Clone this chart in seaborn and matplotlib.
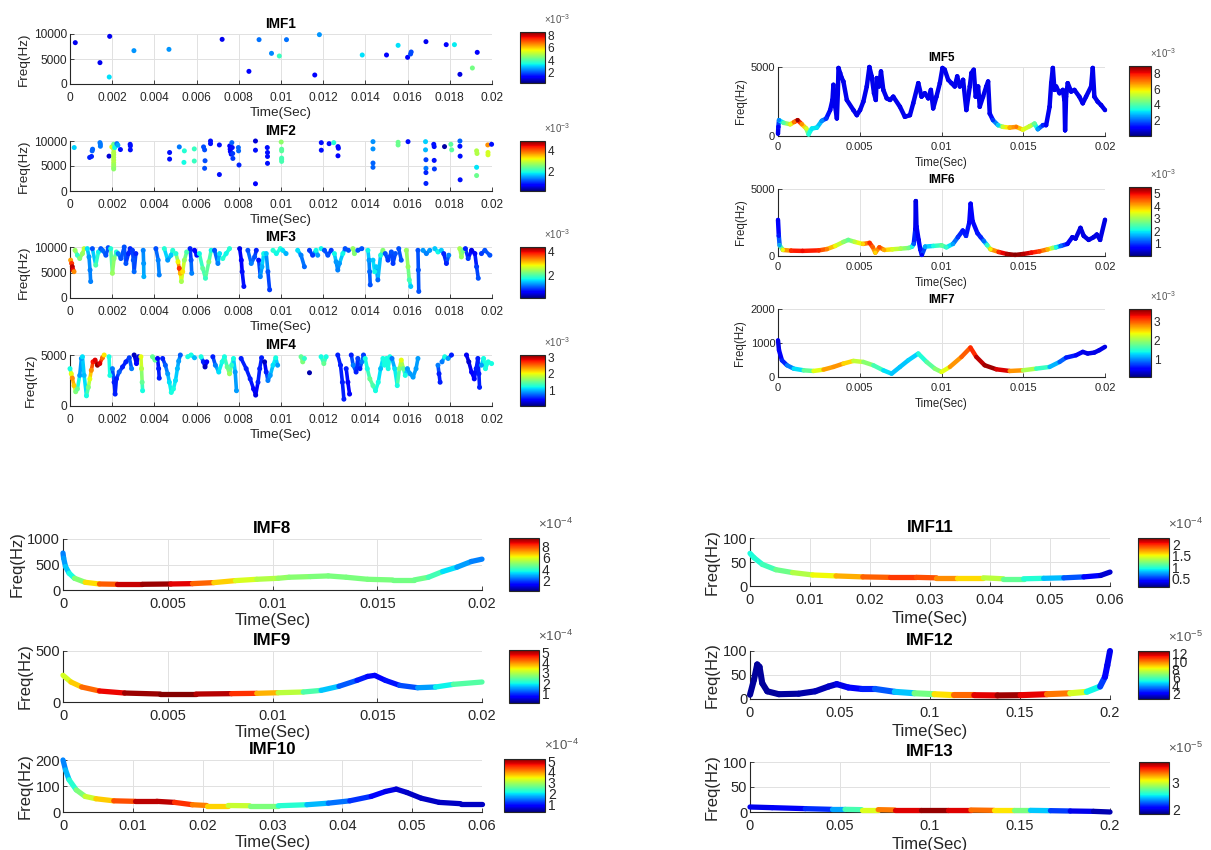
import numpy as np
import matplotlib
matplotlib.use("Agg")
import matplotlib.pyplot as plt
import seaborn as sns
from matplotlib.collections import LineCollection
from matplotlib.colors import Normalize
from matplotlib.cm import ScalarMappable
from matplotlib.ticker import FixedLocator, FuncFormatter

sns.set_theme(style="white")
plt.rcParams["font.family"] = ["Liberation Sans", "DejaVu Sans"]
plt.rcParams["mathtext.fontset"] = "custom"
plt.rcParams["mathtext.rm"] = "Liberation Sans"

JET = matplotlib.colormaps["jet"]

# ---------------- Hilbert spectrum data (time s, instantaneous freq Hz, amplitude) ----------------
# IMF1: isolated points
imf1_time = [0.00025, 0.00142, 0.00188, 0.00186, 0.00303, 0.00469, 0.00721, 0.00848, 0.00896, 0.00955,
             0.00992, 0.01026, 0.0116, 0.01182, 0.01385, 0.015, 0.01555, 0.016, 0.01614, 0.01617,
             0.01687, 0.01783, 0.01822, 0.01848, 0.01907, 0.0193]
imf1_freq = [8270, 4270, 9530, 1400, 6670, 6930, 8930, 2530, 8870, 6130,
             5600, 8870, 1800, 9870, 5800, 5800, 7730, 5330, 6000, 6400,
             8470, 7870, 7870, 1930, 3200, 6330]
imf1_amp = [1.2, 1.2, 1.2, 3.2, 2.6, 2.6, 1.2, 1.3, 2.3, 2.5,
            3.8, 2.3, 1.3, 2.6, 3.2, 1.4, 3.2, 1.3, 2.0, 2.0,
            1.2, 1.4, 3.3, 1.1, 4.4, 1.3]

# IMF2: isolated points
imf2_time = [0.0002, 0.00093, 0.00102, 0.00105, 0.00107, 0.00142, 0.00144, 0.00144, 0.00185, 0.00198,
             0.00207, 0.00207, 0.00207, 0.00207, 0.00207, 0.00207, 0.00207, 0.00207, 0.00207, 0.00207,
             0.00212, 0.00222, 0.00227, 0.00239, 0.00285, 0.00286, 0.00286, 0.00472, 0.00472, 0.00518,
             0.00542, 0.0054, 0.00589, 0.00589, 0.00633, 0.00638, 0.0064, 0.00638, 0.00666, 0.00666,
             0.00708, 0.00708, 0.00757, 0.00759, 0.0076, 0.00764, 0.00767, 0.00769, 0.00771, 0.00772,
             0.00798, 0.00799, 0.00801, 0.00879, 0.00879, 0.00879, 0.00935, 0.00936, 0.00936, 0.00936,
             0.01001, 0.01003, 0.01003, 0.01003, 0.01003, 0.01003, 0.01191, 0.01191, 0.01228, 0.0125,
             0.0127, 0.01272, 0.0127, 0.01436, 0.01436, 0.01436, 0.01436, 0.01555, 0.01555, 0.01602,
             0.01685, 0.01685, 0.01687, 0.01687, 0.01687, 0.01687, 0.01724, 0.01726, 0.01726, 0.01727,
             0.01775, 0.01805, 0.01809, 0.01848, 0.01848, 0.01849, 0.01849, 0.01927, 0.01929, 0.01927,
             0.01927, 0.0198, 0.01981, 0.01981, 0.01998]
imf2_freq = [8690, 6710, 6910, 8030, 8360, 9670, 9340, 8950, 6970, 8820,
             9340, 8360, 7700, 7240, 6710, 6190, 5660, 5200, 4740, 4410,
             8690, 9470, 9150, 8290, 9340, 9010, 8230, 7700, 6380, 8820,
             8030, 5720, 8420, 5990, 8820, 8230, 6050, 4540, 10000, 9470,
             9210, 3290, 9010, 8360, 7900, 7370, 9670, 8690, 7500, 6510,
             8690, 8030, 5200, 10000, 8160, 1450, 8690, 7700, 6910, 5530,
             9800, 8360, 8030, 6580, 6320, 5920, 9670, 8160, 9470, 9670,
             8880, 8550, 7040, 9870, 8420, 5590, 4740, 9740, 9210, 9870,
             9870, 8230, 6250, 4540, 3680, 1510, 9340, 8880, 6120, 4410,
             8880, 9340, 8230, 10000, 8950, 6970, 2240, 8030, 7500, 4740,
             3090, 9210, 7700, 7240, 9340]
imf2_amp = [1.7, 0.9, 0.9, 1.2, 1.2, 1.3, 1.3, 1.3, 0.5, 3.1,
            2.4, 2.8, 2.8, 2.8, 2.8, 2.8, 2.8, 2.7, 2.7, 2.6,
            1.9, 1.3, 1.5, 0.8, 0.8, 0.8, 0.8, 0.8, 0.8, 1.3,
            2.0, 1.9, 2.1, 2.1, 1.1, 1.1, 1.1, 1.1, 0.8, 0.8,
            0.8, 0.8, 0.7, 0.7, 0.7, 0.8, 1.2, 0.8, 1.0, 1.0,
            1.2, 1.2, 0.9, 0.5, 0.8, 0.7, 0.8, 0.8, 0.8, 0.8,
            2.6, 2.3, 2.3, 2.2, 2.2, 2.2, 0.8, 0.8, 0.8, 2.0,
            0.8, 0.8, 0.7, 1.4, 1.4, 1.2, 1.2, 2.4, 2.4, 0.8,
            1.7, 1.6, 1.0, 1.3, 0.9, 0.9, 0.8, 0.8, 0.8, 1.0,
            0.3, 2.3, 2.3, 1.2, 0.8, 0.8, 0.8, 2.8, 2.8, 1.8,
            2.4, 3.7, 3.0, 3.0, 0.8]

# IMF3: short traces (one list per trace)
imf3_time = [
    [0.00003, 0.00008, 0.00011, 0.00014, 0.00019],
    [0.00024, 0.00035, 0.00046, 0.00059, 0.00067],
    [0.00082, 0.0009, 0.00095, 0.00098],
    [0.00106, 0.00122, 0.00135, 0.00146],
    [0.00154, 0.0017, 0.00181],
    [0.00193, 0.00201, 0.00209, 0.0022],
    [0.00228, 0.00241, 0.00257, 0.00265, 0.00277, 0.00285],
    [0.00296, 0.003, 0.00304, 0.00312],
    [0.00347, 0.00349, 0.0035],
    [0.00407, 0.00418, 0.00423],
    [0.00447, 0.00463, 0.00479, 0.00487],
    [0.00502, 0.00512, 0.00518, 0.00523, 0.00528, 0.00534, 0.00542, 0.00553],
    [0.00569, 0.00574, 0.00577],
    [0.0059, 0.00601],
    [0.00613, 0.00629, 0.00642, 0.00658, 0.00669],
    [0.00685, 0.00701, 0.00709],
    [0.00724, 0.0074, 0.00756],
    [0.00804, 0.00812, 0.00816, 0.00824],
    [0.00843, 0.00859, 0.00875, 0.00883],
    [0.00894, 0.00902, 0.0091, 0.00918],
    [0.0093, 0.00938, 0.00946],
    [0.00962, 0.00978, 0.00997],
    [0.01008, 0.01024],
    [0.01079, 0.01095, 0.01111],
    [0.01135, 0.0115, 0.01166, 0.01174],
    [0.0119, 0.01206, 0.01222, 0.01238],
    [0.01253, 0.01261, 0.01269, 0.01277, 0.01293, 0.01304, 0.0132],
    [0.01341, 0.01348],
    [0.01364, 0.01383],
    [0.01412, 0.01417, 0.0142, 0.01423],
    [0.01436, 0.01444, 0.01451, 0.01459, 0.01472, 0.01483],
    [0.01494, 0.01507, 0.01523, 0.01531, 0.01542],
    [0.01558, 0.0157],
    [0.01594, 0.01602, 0.01608, 0.01615],
    [0.01649, 0.01651, 0.01653],
    [0.01673, 0.01689, 0.01705],
    [0.01729, 0.01744, 0.0176],
    [0.01771, 0.01784, 0.01795],
    [0.01847, 0.01855, 0.01863],
    [0.01874, 0.01887, 0.01903, 0.01919, 0.01927, 0.01935],
    [0.0195, 0.01966, 0.0199],
]
imf3_freq = [
    [7420, 6770, 6130, 5480, 5160],
    [9350, 8390, 7740, 8710, 9680],
    [9680, 8060, 5480, 3230],
    [9680, 6450, 9030, 9680],
    [9350, 8390, 9870],
    [9680, 4840, 7740, 9030],
    [8710, 7740, 10000, 6770, 8710, 9680],
    [9350, 7420, 5160, 8710],
    [9350, 6770, 4190],
    [9680, 7420, 4520],
    [9680, 7420, 8390, 9350],
    [8710, 7100, 5810, 4840, 3230, 5160, 7420, 9030],
    [9680, 7420, 4840],
    [9350, 8390],
    [8710, 5810, 3870, 7100, 9350],
    [9350, 6770, 8710],
    [7740, 8710, 9680],
    [9680, 7420, 5160, 2260],
    [9350, 6770, 8060, 9350],
    [7420, 4190, 6130, 8710],
    [8710, 5160, 1610],
    [9350, 8710, 9680],
    [9350, 8710],
    [9350, 8390, 6130],
    [9350, 8390, 9350, 8390],
    [9680, 9350, 8390, 9350],
    [8710, 7100, 5480, 6770, 8710, 9680, 9350],
    [9680, 8710],
    [9350, 9680],
    [9350, 7420, 5160, 2580],
    [7420, 5160, 6130, 3550, 8390, 9350],
    [8710, 7420, 9030, 6770, 8710],
    [9680, 7420],
    [9350, 6130, 3550, 2260],
    [9350, 5480, 1290],
    [9350, 8710, 9350],
    [9680, 9030, 9350],
    [8710, 6770, 8390],
    [9680, 8060, 9350],
    [9680, 7740, 9350, 8710, 6130, 3870],
    [8710, 9350, 8390],
]
imf3_amp = [
    [3.3, 3.8, 4.2, 4.0, 3.4],
    [2.4, 1.9, 2.3, 2.4, 2.6],
    [1.6, 1.3, 1.2, 1.2],
    [1.0, 2.0, 1.7, 1.0],
    [1.1, 1.0, 1.0],
    [1.8, 2.4, 2.3, 1.8],
    [1.2, 1.0, 1.0, 1.0, 0.8, 0.8],
    [0.9, 1.0, 1.1, 0.8],
    [1.2, 1.3, 1.4],
    [1.0, 1.2, 1.2],
    [1.8, 1.3, 1.5, 1.8],
    [1.8, 2.9, 3.8, 3.2, 2.5, 3.0, 2.4, 2.0],
    [0.8, 1.0, 1.2],
    [0.6, 0.7],
    [1.7, 2.1, 1.9, 2.3, 1.7],
    [1.0, 1.2, 1.6],
    [1.8, 1.7, 1.8],
    [0.5, 0.6, 0.7, 0.7],
    [1.0, 1.2, 1.0, 0.8],
    [0.7, 1.2, 1.4, 1.7],
    [1.5, 1.0, 0.9],
    [1.8, 1.7, 1.8],
    [1.6, 1.4],
    [1.6, 1.2, 1.1],
    [0.9, 0.9, 1.7, 1.3],
    [1.7, 1.0, 1.0, 0.9],
    [1.7, 1.3, 1.2, 1.3, 1.7, 1.0, 1.0],
    [2.4, 2.3],
    [1.0, 1.0],
    [1.7, 1.3, 1.1, 1.0],
    [1.5, 1.7, 1.5, 1.1, 1.8, 2.3],
    [1.0, 0.9, 1.0, 0.9, 1.0],
    [1.0, 1.0],
    [2.4, 2.4, 2.0, 1.5],
    [1.0, 1.0, 1.0],
    [1.3, 1.2, 1.3],
    [1.5, 1.7, 1.5],
    [0.8, 0.8, 1.2],
    [2.5, 2.4, 2.2],
    [0.8, 0.9, 0.5, 0.6, 0.9, 1.0],
    [0.9, 1.0, 1.0],
]

# IMF4: short traces
imf4_time = [
    [0, 0.00006, 0.00011, 0.00019, 0.00027, 0.00035, 0.00046, 0.00054],
    [0.00059, 0.00067, 0.00078, 0.00087, 0.00094, 0.00101, 0.00109, 0.00119, 0.0013, 0.00141, 0.00154, 0.00162],
    [0.00185, 0.00189],
    [0.00201, 0.00209, 0.00214, 0.0022, 0.00233, 0.00249, 0.00265, 0.00281, 0.00292],
    [0.00304, 0.00315, 0.00325],
    [0.00336, 0.00339, 0.00342, 0.00344],
    [0.00391, 0.00403],
    [0.00415, 0.0042, 0.00423],
    [0.00439, 0.00452, 0.00463, 0.00471, 0.0048, 0.0049, 0.005, 0.00509, 0.00515, 0.00523],
    [0.00558, 0.00574, 0.0059],
    [0.00621, 0.00632, 0.0064, 0.00648],
    [0.00677, 0.00689, 0.00705, 0.00721, 0.00732, 0.00745, 0.00756, 0.00766, 0.00775, 0.00783, 0.00789],
    [0.00811, 0.00835, 0.00854, 0.0087, 0.0088, 0.00891, 0.00899, 0.00908],
    [0.00922, 0.0093, 0.00938, 0.00949, 0.00962, 0.00975, 0.00984],
    [0.01095, 0.01103, 0.01111],
    [0.01135],
    [0.0119, 0.01203, 0.01214],
    [0.01269, 0.01282, 0.01291, 0.01298],
    [0.01309, 0.01317, 0.01325],
    [0.01333, 0.01342, 0.01356, 0.01364, 0.01374, 0.01383, 0.01391],
    [0.01399, 0.01409, 0.01421, 0.01436, 0.01448, 0.01461, 0.01472, 0.01483, 0.01491, 0.015, 0.01508, 0.01516],
    [0.01526, 0.01539, 0.01551, 0.01561, 0.0157, 0.0158, 0.01589, 0.01599, 0.01612, 0.01626, 0.0164, 0.01649],
    [0.01744, 0.01749, 0.01754],
    [0.01763, 0.01776, 0.01792, 0.01808],
    [0.01879, 0.0189, 0.01903, 0.01916, 0.01925, 0.01933, 0.01938, 0.01941],
    [0.0195, 0.0196, 0.01969, 0.01982, 0.01998],
]
imf4_freq = [
    [3660, 3160, 2730, 2000, 1400, 1670, 3000, 4660],
    [4830, 3000, 1000, 1830, 2660, 3500, 4330, 4500, 4000, 4160, 4730, 5000],
    [4830, 3000],
    [3660, 2330, 1170, 2660, 3330, 3830, 4330, 4730, 3660],
    [5000, 4160, 4830],
    [4830, 3660, 2330, 1500],
    [4830, 4500],
    [4660, 3660, 2730],
    [4660, 4000, 3160, 2330, 1330, 1670, 2500, 3660, 4400, 5000],
    [4830, 5000, 4730],
    [4830, 4330, 3830, 4330],
    [4830, 4000, 3330, 4330, 4830, 3830, 3160, 4000, 4660, 3330, 1500],
    [4660, 3660, 2660, 1670, 1070, 2330, 3660, 4730],
    [4330, 3330, 2500, 3000, 4000, 4730, 4000],
    [4830, 4330, 4660],
    [3260],
    [4830, 4160, 4830],
    [5000, 4000, 2330, 670],
    [3660, 2330, 1170],
    [5000, 4000, 3330, 4660, 3660, 4330, 5000],
    [4660, 3660, 2660, 2000, 1500, 2330, 3660, 4660, 4000, 4660, 3660, 4830],
    [4660, 3660, 2000, 3660, 4500, 3660, 3000, 3660, 3160, 2830, 3660, 4660],
    [4000, 3160, 2330],
    [4330, 4830, 4660, 5000],
    [5000, 4330, 3330, 2660, 3660, 4660, 3160, 1830],
    [4000, 4660, 3660, 4330, 4160],
]
imf4_amp = [
    [1.2, 2.0, 2.4, 2.2, 1.6, 1.5, 0.9, 0.9],
    [1.1, 1.0, 1.2, 1.6, 2.0, 2.4, 2.8, 2.9, 3.1, 2.9, 2.5, 2.1],
    [1.2, 1.2],
    [0.8, 0.5, 0.5, 0.5, 0.7, 0.5, 0.5, 0.6, 0.8],
    [0.2, 0.4, 0.3],
    [2.0, 1.8, 1.5, 1.2],
    [1.5, 1.5],
    [0.4, 0.5, 0.5],
    [0.5, 0.7, 0.9, 1.1, 1.2, 1.2, 1.1, 1.0, 0.9, 0.7],
    [1.2, 1.2, 1.0],
    [1.2, 0.5, 0.2, 0.4],
    [0.5, 0.8, 1.1, 1.2, 1.2, 1.5, 1.7, 1.3, 1.2, 0.9, 0.9],
    [0.5, 0.5, 0.5, 0.4, 0.3, 0.5, 0.5, 0.5],
    [0.2, 0.5, 0.8, 0.9, 1.1, 1.2, 0.9],
    [1.5, 1.6, 1.3],
    [0.15],
    [1.2, 1.5, 1.2],
    [0.5, 0.5, 0.5, 0.5],
    [0.5, 0.4, 0.4],
    [0.5, 0.8, 0.5, 0.6, 0.5, 0.8, 0.6],
    [1.2, 1.2, 1.5, 1.4, 1.2, 1.2, 1.0, 1.2, 1.2, 1.2, 1.2, 1.2],
    [0.8, 1.1, 1.2, 1.6, 2.0, 1.5, 1.2, 0.9, 0.9, 0.9, 0.9, 0.9],
    [0.8, 0.5, 0.5],
    [0.8, 1.2, 0.9, 0.5],
    [0.35, 0.25, 0.4, 0.4, 0.5, 0.5, 0.5, 0.5],
    [0.9, 1.2, 1.2, 1.2, 1.2],
]

# IMF5 .. IMF13: continuous ridges
imf5_time = [0, 0.00002, 0.00006, 0.00035, 0.00075, 0.001, 0.0012, 0.00146, 0.00173, 0.00187,
             0.00207, 0.00238, 0.00268, 0.00295, 0.00319, 0.00333, 0.00339, 0.0035, 0.0036, 0.00366,
             0.0037, 0.0038, 0.0039, 0.004, 0.00421, 0.00461, 0.00482, 0.00502, 0.00522, 0.00543,
             0.00559, 0.00573, 0.00587, 0.00598, 0.00604, 0.00618, 0.0063, 0.00644, 0.00665, 0.00685,
             0.00705, 0.00746, 0.00776, 0.00807, 0.00827, 0.00858, 0.00878, 0.00898, 0.00919, 0.00935,
             0.00949, 0.00969, 0.0099, 0.01006, 0.0102, 0.01041, 0.01061, 0.01081, 0.01096, 0.01112,
             0.01132, 0.01152, 0.01173, 0.01183, 0.01197, 0.01209, 0.01224, 0.01234, 0.01254, 0.01274,
             0.01285, 0.01295, 0.01315, 0.01346, 0.01376, 0.01417, 0.01457, 0.01498, 0.01539, 0.01569,
             0.01589, 0.0162, 0.0164, 0.01661, 0.01671, 0.01681, 0.01691, 0.01701, 0.01722, 0.01742,
             0.01752, 0.01756, 0.01762, 0.01772, 0.01793, 0.01813, 0.01843, 0.01864, 0.01884, 0.01915,
             0.01925, 0.01935, 0.01955, 0.01976, 0.02]
imf5_freq = [170, 660, 1150, 950, 850, 1020, 1150, 850, 540, 120,
             540, 610, 1100, 1270, 1880, 2610, 3710, 2120, 1270, 3100,
             4930, 4560, 4200, 3950, 2610, 1880, 1510, 1880, 2490, 3590,
             5000, 4320, 3100, 2610, 4200, 3590, 4680, 3340, 2730, 2610,
             2850, 2120, 1390, 1510, 2370, 3830, 2850, 3100, 2730, 3340,
             2000, 2850, 3830, 4930, 4800, 4070, 3830, 3590, 4320, 3590,
             4070, 1880, 3590, 4560, 4800, 2850, 3590, 2120, 2850, 3590,
             3950, 1630, 1150, 780, 660, 610, 660, 460, 710, 900,
             490, 780, 780, 2120, 3830, 4930, 3340, 3590, 3100, 3340,
             2610, 410, 2850, 3830, 3220, 3340, 2850, 2370, 2850, 3590,
             4930, 2850, 2490, 2240, 1880]
imf5_amp = [0.9, 1.0, 2.3, 4.0, 5.6, 7.0, 8.7, 6.8, 5.5, 3.5,
            3.2, 3.2, 2.4, 1.6, 1.0, 0.9, 0.9, 0.9, 0.9, 0.9,
            0.9, 0.9, 0.9, 0.9, 0.9, 0.9, 0.9, 0.9, 0.9, 0.9,
            0.9, 0.9, 0.9, 0.9, 0.9, 0.9, 0.9, 0.9, 0.9, 0.9,
            0.9, 0.9, 0.9, 0.9, 0.9, 0.9, 0.9, 0.9, 0.9, 0.9,
            0.9, 0.9, 0.9, 0.9, 0.9, 0.9, 0.9, 0.9, 0.9, 0.9,
            0.9, 0.9, 0.9, 0.9, 0.9, 0.9, 0.9, 0.9, 0.9, 0.9,
            0.9, 0.9, 1.6, 3.0, 5.3, 6.5, 7.0, 5.6, 5.3, 4.3,
            2.5, 1.5, 1.0, 0.9, 0.9, 0.9, 0.9, 0.9, 0.9, 0.9,
            0.9, 0.9, 0.9, 0.9, 0.9, 0.9, 0.9, 0.9, 0.9, 0.9,
            0.9, 0.9, 0.9, 0.9, 0.9]

imf6_time = [0, 0.00005, 0.0001, 0.0003, 0.0008, 0.0015, 0.0025, 0.003, 0.0035, 0.004,
             0.0043, 0.0047, 0.0052, 0.0056, 0.0058, 0.00595, 0.0062, 0.0065, 0.007, 0.0075,
             0.008, 0.0082, 0.0083, 0.0084, 0.00843, 0.00847, 0.0086, 0.0087, 0.0088, 0.009,
             0.0095, 0.01, 0.0103, 0.0107, 0.011, 0.0113, 0.0115, 0.0117, 0.01178, 0.0119,
             0.0122, 0.0124, 0.0126, 0.0128, 0.013, 0.0135, 0.014, 0.0145, 0.015, 0.0155,
             0.016, 0.0165, 0.0168, 0.017, 0.0173, 0.0177, 0.018, 0.0182, 0.0185, 0.0187,
             0.019, 0.0193, 0.0195, 0.0197, 0.02]
imf6_freq = [2690, 1500, 800, 450, 400, 380, 420, 520, 750, 1050,
             1200, 1050, 900, 980, 650, 250, 650, 450, 500, 550,
             600, 700, 900, 2000, 4100, 2200, 1200, 500, 80, 700,
             750, 800, 650, 900, 1400, 1900, 1500, 2500, 3900, 2600,
             1700, 1400, 1100, 800, 500, 300, 150, 80, 150, 250,
             350, 500, 600, 650, 750, 900, 1400, 1300, 2100, 1500,
             1200, 1400, 1600, 1200, 2700]
imf6_amp = [0.6, 0.8, 1.6, 3.5, 4.8, 5.0, 4.8, 4.3, 3.6, 2.9,
            2.6, 3.2, 3.8, 4.8, 4.5, 3.8, 4.6, 4.1, 3.4, 3.1,
            2.7, 2.1, 1.2, 0.6, 0.5, 0.6, 0.6, 0.8, 0.6, 1.6,
            2.1, 2.6, 2.3, 1.6, 1.0, 0.8, 0.9, 0.7, 0.6, 0.7,
            0.8, 0.9, 1.3, 2.2, 3.6, 4.8, 5.3, 5.5, 5.3, 5.0,
            4.7, 4.0, 3.0, 2.1, 1.3, 0.7, 0.5, 0.5, 0.5, 0.5,
            0.5, 0.5, 0.5, 0.5, 0.5]

imf7_time = [0, 0.00006, 0.00024, 0.00055, 0.00096, 0.00157, 0.00217, 0.00278, 0.00339, 0.004,
             0.00461, 0.00522, 0.00583, 0.00644, 0.00695, 0.00746, 0.00797, 0.00858, 0.00909, 0.00959,
             0.01, 0.01051, 0.01122, 0.01177, 0.01213, 0.01264, 0.01335, 0.01417, 0.01498, 0.01579,
             0.01661, 0.01722, 0.01762, 0.01823, 0.01864, 0.01894, 0.01935, 0.01965, 0.02]
imf7_freq = [1080, 790, 490, 345, 246, 197, 177, 217, 296, 394,
             473, 443, 345, 197, 98, 296, 493, 690, 443, 246,
             148, 296, 591, 867, 591, 345, 227, 177, 197, 246,
             296, 443, 571, 640, 739, 690, 719, 788, 887]
imf7_amp = [0.4, 0.4, 0.5, 0.8, 1.1, 1.5, 2.0, 2.6, 2.8, 2.7,
            2.3, 2.0, 1.8, 1.4, 1.2, 1.2, 1.2, 1.3, 1.6, 1.8,
            2.0, 2.6, 2.9, 3.0, 3.3, 3.55, 3.5, 3.2, 2.3, 1.8,
            1.3, 1.0, 0.7, 0.5, 0.4, 0.4, 0.4, 0.4, 0.4]

imf8_time = [0, 0.00003, 0.00012, 0.00029, 0.00055, 0.00106, 0.00174, 0.00259, 0.00379, 0.00515,
             0.00618, 0.0072, 0.00823, 0.00925, 0.01027, 0.01079, 0.01181, 0.01266, 0.01352, 0.01454,
             0.01573, 0.01676, 0.01744, 0.01812, 0.0188, 0.01949, 0.02]
imf8_freq = [724, 625, 460, 330, 230, 151, 118, 112, 112, 118,
             125, 145, 184, 210, 230, 250, 263, 276, 250, 210,
             197, 197, 250, 362, 447, 559, 605]
imf8_amp = [2.5, 2.6, 3.0, 3.4, 4.0, 5.8, 7.0, 8.3, 9.3, 9.0,
            8.2, 7.0, 6.1, 5.6, 5.2, 5.0, 4.9, 4.8, 4.8, 4.8,
            4.8, 4.7, 4.6, 3.8, 3.0, 2.6, 2.5]

imf9_time = [0, 0.00038, 0.00089, 0.00174, 0.00294, 0.00464, 0.00635, 0.00805, 0.00925, 0.01027,
             0.01147, 0.01232, 0.01317, 0.01403, 0.01454, 0.01488, 0.01539, 0.01607, 0.01693, 0.01778,
             0.01863, 0.02]
imf9_freq = [262, 196, 147, 108, 88, 78, 78, 82, 85, 91,
             98, 114, 154, 212, 251, 261, 212, 163, 140, 147,
             173, 196]
imf9_amp = [3.0, 3.4, 3.9, 4.5, 5.0, 5.25, 5.2, 4.8, 4.2, 3.4,
            2.7, 2.0, 1.4, 0.9, 0.75, 0.7, 0.7, 0.9, 1.3, 1.7,
            2.2, 2.6]

imf10_time = [0, 0.00036, 0.00087, 0.0019, 0.00317, 0.00471, 0.00727, 0.01034, 0.01341, 0.01597,
              0.01853, 0.02058, 0.02365, 0.02672, 0.03082, 0.03492, 0.03799, 0.04106, 0.04413, 0.04618,
              0.04772, 0.04925, 0.0513, 0.05386, 0.05693, 0.06]
imf10_freq = [200, 162, 124, 85, 60, 51, 43, 41, 41, 37,
              28, 25, 25, 24, 24, 28, 34, 43, 60, 79,
              88, 75, 53, 37, 32, 32]
imf10_amp = [1.5, 1.6, 2.0, 2.5, 3.0, 3.4, 4.0, 4.7, 5.2, 4.7,
             4.3, 3.9, 3.4, 3.0, 2.5, 2.0, 1.6, 1.3, 1.0, 0.8,
             0.7, 0.6, 0.6, 0.6, 0.6, 0.6]

imf11_time = [0, 0.00067, 0.00206, 0.0043, 0.00709, 0.01044, 0.01434, 0.0188, 0.02327, 0.02773,
              0.03108, 0.03443, 0.03889, 0.04224, 0.04559, 0.04894, 0.05229, 0.05564, 0.05843, 0.06]
imf11_freq = [68, 59, 45, 34, 28, 23, 21, 19, 18, 18,
              17, 17, 17, 15, 15, 16, 17, 19, 22, 29]
imf11_amp = [0.95, 0.95, 1.0, 1.1, 1.25, 1.45, 1.6, 1.8, 1.95, 2.0,
             1.85, 1.7, 1.5, 1.25, 1.05, 0.9, 0.7, 0.45, 0.3, 0.25]

imf12_time = [0, 0.0022, 0.004, 0.0053, 0.0068, 0.0096, 0.016, 0.027, 0.0362, 0.0436,
              0.0482, 0.0546, 0.062, 0.0694, 0.0804, 0.0914, 0.1025, 0.1135, 0.1246, 0.1375,
              0.1503, 0.165, 0.1779, 0.1871, 0.1945, 0.1972, 0.1985, 0.2]
imf12_freq = [8.8, 40, 72, 67, 33, 16, 10, 11, 16, 26,
              31, 24, 21, 21, 15, 12, 10, 8, 8, 7.5,
              8, 10, 12, 15, 26, 46, 70, 100]
imf12_amp = [0.8, 0.8, 0.8, 0.8, 0.8, 0.8, 0.8, 0.9, 1.0, 1.2,
             1.4, 1.8, 2.2, 2.6, 3.6, 5.2, 7.8, 9.5, 11.0, 12.3,
             12.4, 10.8, 9.3, 6.5, 3.5, 2.0, 1.7, 1.7]

imf13_time = [0, 0.0123, 0.0307, 0.0454, 0.0528, 0.062, 0.0712, 0.0804, 0.0951, 0.1098,
              0.1227, 0.1356, 0.1466, 0.1558, 0.1669, 0.1779, 0.1908, 0.2]
imf13_freq = [10, 8.7, 6.7, 5.3, 5.3, 4.7, 4.7, 4, 4, 4,
              4, 3.3, 3.3, 3.3, 2.7, 2, 1.3, 0]
imf13_amp = [2.0, 2.0, 2.05, 2.25, 2.5, 2.85, 3.2, 3.5, 3.75, 3.75,
             3.5, 3.25, 3.0, 2.6, 2.3, 2.05, 1.95, 1.85]

# colour limits (in units of 10^exponent) and exponents of each amplitude scale
amp_limits = [(0.38, 8.55), (0.15, 4.85), (0.11, 4.42), (0.02, 3.16), (0.05, 8.94),
              (0.02, 5.55), (0.07, 3.63), (0.25, 9.4), (0.05, 5.25), (0.3, 5.2),
              (0.12, 2.3), (0.5, 12.7), (1.81, 3.79)]
amp_exponent = [-3, -3, -3, -3, -3, -3, -3, -4, -4, -4, -4, -5, -5]
amp_ticks = [[2, 4, 6, 8], [2, 4], [2, 4], [1, 2, 3], [2, 4, 6, 8], [1, 2, 3, 4, 5], [1, 2, 3],
             [2, 4, 6, 8], [1, 2, 3, 4, 5], [1, 2, 3, 4, 5], [0.5, 1, 1.5, 2], [2, 4, 6, 8, 10, 12], [2, 3]]

# ---------------- layout ----------------
W, H = 1211, 850
fig = plt.figure(figsize=(W / 100, H / 100), dpi=100)
fig.patch.set_facecolor("white")
INK = "#262626"
fmt = FuncFormatter(lambda v, p: f"{v:g}")


def box(x0, y0, x1, y1):
    return [x0 / W, 1 - y1 / H, (x1 - x0) / W, (y1 - y0) / H]


STYLE = {
    "tl": dict(tick=8.6, label=9.7, title=9.8, exp=7.0, lw=2.6, s=13,
               xpad=5.5, xlpad=2.5, ylpad=3, tpad=4, cbtick=8.6),
    "tr": dict(tick=8.0, label=8.3, title=8.4, exp=7.0, lw=3.2, s=9,
               xpad=4.5, xlpad=3.5, ylpad=3, tpad=4, cbtick=8.6),
    "bl": dict(tick=10.5, label=12.0, title=12.2, exp=9.5, lw=3.8, s=0,
               xpad=5.0, xlpad=1.5, ylpad=2, tpad=4, cbtick=10.0),
    "br": dict(tick=10.5, label=12.0, title=12.2, exp=9.5, lw=3.8, s=0,
               xpad=5.0, xlpad=3.0, ylpad=2, tpad=4.5, cbtick=10.0),
}

PANELS = [
    # (title, group, axes box, colorbar box, xmax, xstep, ymax, yticks)
    ("IMF1", "tl", (70, 34, 492, 84), (520, 32, 545, 83), 0.02, 0.002, 10000, [0, 5000, 10000]),
    ("IMF2", "tl", (70, 141, 492, 191), (520, 141, 545, 191), 0.02, 0.002, 10000, [0, 5000, 10000]),
    ("IMF3", "tl", (70, 247, 492, 298), (520, 247, 545, 298), 0.02, 0.002, 10000, [0, 5000, 10000]),
    ("IMF4", "tl", (70, 355, 492, 406), (520, 355, 545, 406), 0.02, 0.002, 5000, [0, 5000]),
    ("IMF5", "tr", (778, 67, 1105, 136), (1129, 66, 1151, 136), 0.02, 0.005, 5000, [0, 5000]),
    ("IMF6", "tr", (778, 189, 1105, 256), (1129, 187, 1151, 256), 0.02, 0.005, 5000, [0, 5000]),
    ("IMF7", "tr", (778, 309, 1105, 377), (1129, 309, 1151, 377), 0.02, 0.005, 2000, [0, 1000, 2000]),
    ("IMF8", "bl", (63, 539, 482, 590), (509, 538, 539, 591), 0.02, 0.005, 1000, [0, 500, 1000]),
    ("IMF9", "bl", (63, 651, 482, 702), (509, 650, 539, 703), 0.02, 0.005, 500, [0, 500]),
    ("IMF10", "bl", (63, 760, 482, 812), (504, 759, 545, 812), 0.06, 0.01, 200, [0, 100, 200]),
    ("IMF11", "br", (750, 538, 1110, 586), (1138, 538, 1169, 587), 0.06, 0.01, 100, [0, 50, 100]),
    ("IMF12", "br", (750, 651, 1110, 699), (1138, 651, 1169, 699), 0.2, 0.05, 100, [0, 50, 100]),
    ("IMF13", "br", (750, 762, 1110, 812), (1139, 762, 1169, 814), 0.2, 0.05, 100, [0, 50, 100]),
]

SCATTER = {0: (imf1_time, imf1_freq, imf1_amp), 1: (imf2_time, imf2_freq, imf2_amp)}
TRACES = {2: (imf3_time, imf3_freq, imf3_amp), 3: (imf4_time, imf4_freq, imf4_amp)}
RIDGES = {4: (imf5_time, imf5_freq, imf5_amp), 5: (imf6_time, imf6_freq, imf6_amp),
          6: (imf7_time, imf7_freq, imf7_amp), 7: (imf8_time, imf8_freq, imf8_amp),
          8: (imf9_time, imf9_freq, imf9_amp), 9: (imf10_time, imf10_freq, imf10_amp),
          10: (imf11_time, imf11_freq, imf11_amp), 11: (imf12_time, imf12_freq, imf12_amp),
          12: (imf13_time, imf13_freq, imf13_amp)}
RIDGE_DOTS = {4, 5}


def colored_traces(ax, times, freqs, amps, norm, lw):
    segs, vals = [], []
    for t, f, a in zip(times, freqs, amps):
        for i in range(len(t) - 1):
            segs.append([(t[i], f[i]), (t[i + 1], f[i + 1])])
            vals.append(0.5 * (a[i] + a[i + 1]))
    if segs:
        lc = LineCollection(segs, cmap=JET, norm=norm, linewidths=lw,
                            capstyle="round", joinstyle="round", clip_on=False, zorder=3)
        lc.set_array(np.array(vals))
        ax.add_collection(lc)


def dots(ax, t, f, a, norm, s):
    sns.scatterplot(x=t, y=f, hue=a, palette=JET, hue_norm=norm, s=s, linewidth=0,
                    legend=False, ax=ax, clip_on=False, zorder=4)


for k, (title, grp, abox, cbox, xmax, xstep, ymax, yticks) in enumerate(PANELS):
    st = STYLE[grp]
    ax = fig.add_axes(box(*abox))
    lo, hi = amp_limits[k]
    norm = Normalize(lo, hi)

    if k in SCATTER:
        t, f, a = SCATTER[k]
        dots(ax, t, f, a, norm, st["s"])
    elif k in TRACES:
        t, f, a = TRACES[k]
        colored_traces(ax, t, f, a, norm, st["lw"])
        dots(ax, sum(t, []), sum(f, []), sum(a, []), norm, st["s"])
    else:
        t, f, a = RIDGES[k]
        lw = st["lw"] + (0.6 if k == 11 else 0.0)
        colored_traces(ax, [t], [f], [a], norm, lw)
        if k in RIDGE_DOTS:
            dots(ax, t, f, a, norm, st["s"])

    ax.set_xlim(0, xmax)
    ax.set_ylim(0, ymax)
    xt = [round(i * xstep, 6) for i in range(int(round(xmax / xstep)) + 1)]
    ax.xaxis.set_major_locator(FixedLocator(xt))
    ax.yaxis.set_major_locator(FixedLocator(yticks))
    ax.xaxis.set_major_formatter(fmt)
    ax.yaxis.set_major_formatter(fmt)
    ax.grid(True, color="#e1e1e1", linewidth=0.7)
    ax.set_axisbelow(True)
    for side in ("top", "right"):
        ax.spines[side].set_visible(False)
    for side in ("left", "bottom"):
        ax.spines[side].set_color(INK)
        ax.spines[side].set_linewidth(0.8)
    ax.tick_params(direction="in", length=3, width=0.6, colors=INK, labelsize=st["tick"],
                   bottom=True, left=True)
    ax.tick_params(axis="x", pad=st["xpad"])
    ax.tick_params(axis="y", pad=2)
    ax.set_xlabel("Time(Sec)", fontsize=st["label"], color=INK, labelpad=st["xlpad"])
    ax.set_ylabel("Freq(Hz)", fontsize=st["label"], color=INK, labelpad=st["ylpad"])
    ax.set_title(title, fontsize=st["title"], fontweight="bold", color="black", pad=st["tpad"])

    cax = fig.add_axes(box(*cbox))
    cb = fig.colorbar(ScalarMappable(norm=norm, cmap=JET), cax=cax)
    cb.set_ticks(amp_ticks[k])
    cax.yaxis.set_major_formatter(fmt)
    cb.outline.set_linewidth(0.8)
    cb.outline.set_edgecolor(INK)
    cax.tick_params(direction="in", length=2.5, width=0.6, colors=INK,
                    labelsize=st["cbtick"], pad=2)
    cax.annotate(r"$\mathregular{\times10^{%d}}$" % amp_exponent[k], xy=(1.0, 1.0),
                 xycoords="axes fraction", xytext=(-1, 4), textcoords="offset points",
                 ha="left", va="bottom", fontsize=st["exp"], color="#555555")

fig.savefig("out.png", dpi=100, facecolor="white")
